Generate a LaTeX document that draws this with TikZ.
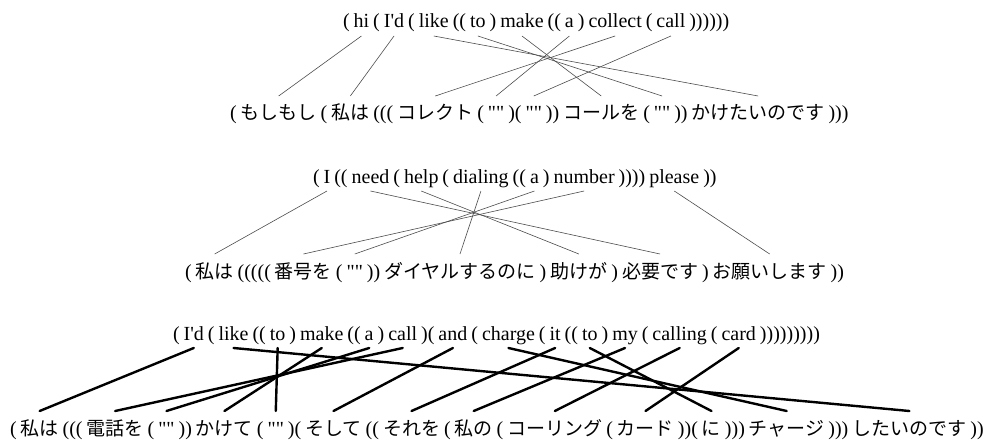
\documentclass[tikz,border=0pt]{standalone}
\usepackage{fontspec}
\setmainfont{Liberation Serif}[Ligatures=TeXOff]
\newfontfamily\jp{Noto Sans CJK JP}[Scale=0.95]
\usetikzlibrary{positioning}

\tikzset{
  seg/.style={inner xsep=2pt, outer sep=0pt, text height=14pt, text depth=5pt},
  en/.style={seg, inner ysep=3pt},
  ja/.style={seg, inner ysep=10pt},
  thinlink/.style={line width=0.6pt, black!70},
  boldlink/.style={line width=2.4pt, line cap=round}
}

% one bracketed sentence: odd segments are brackets, even ones are words
\newcommand\sentence[5]{% name, style, start, word font, segments
  \foreach \s [count=\i] in {#5}{%
    \ifodd\i \let\segfont\relax \else \def\segfont{#4}\fi
    \ifnum\i=1
      \node[#2, anchor=base west] (#1\i) at (#3) {\segfont\s};
    \else
      \pgfmathtruncatemacro\prev{\i-1}
      \node[#2, base right=0pt of #1\prev] (#1\i) {\segfont\s};
    \fi}}

\begin{document}
\begin{tikzpicture}[x=1pt, y=-1pt, font=\fontsize{20}{24}\selectfont]
  \useasboundingbox (0,0) rectangle (992,441);

  % first pair
  \sentence{ea}{en}{341,28}{}{{(},hi,{(},I'd,{(},like,{((},to,{)},make,{((},a,{)},collect,{(},call,{))))))}}
  \sentence{ja}{ja}{228,120}{\jp}{{(},もしもし,{(},私は,{(((},コレクト,{(},{\rmfamily""},{)(},{\rmfamily""},{))},コールを,{(},{\rmfamily""},{))},かけたいのです,{)))}}
  \foreach \a/\b in {2/2,4/4,6/16,8/14,10/12,12/8,14/6,16/10}
    \draw[thinlink] (ea\a.south) -- (ja\b.north);

  % second pair
  \sentence{eb}{en}{311,183}{}{{(},I,{((},need,{(},help,{(},dialing,{((},a,{)},number,{))))},please,{))}}
  \sentence{jb}{ja}{183,278}{\jp}{{(},私は,{(((((},番号を,{(},{\rmfamily""},{))},ダイヤルするのに,{)},助けが,{)},必要です,{)},お願いします,{))}}
  \foreach \a/\b in {2/2,4/12,6/10,8/8,10/6,12/4,14/14}
    \draw[thinlink] (eb\a.south) -- (jb\b.north);

  % third pair
  \sentence{ec}{en}{171,340}{}{{(},I'd,{(},like,{((},to,{)},make,{((},a,{)},call,{)(},and,{(},charge,{(},it,{((},to,{)},my,{(},calling,{(},card,{)))))))))}}
  \sentence{jc}{ja}{8,435}{\jp}{{(},私は,{(((},電話を,{(},{\rmfamily""},{))},かけて,{(},{\rmfamily""},{)(},そして,{((},それを,{(},私の,{(},コーリング,{(},カード,{))(},に,{)))},チャージ,{)))},したいのです,{))}}
  \foreach \a/\b in {2/2,4/26,6/10,8/8,10/6,12/4,14/12,16/24,18/14,20/22,22/16,24/18,26/20}
    \draw[boldlink] (ec\a.south) -- (jc\b.north);
\end{tikzpicture}
\end{document}
